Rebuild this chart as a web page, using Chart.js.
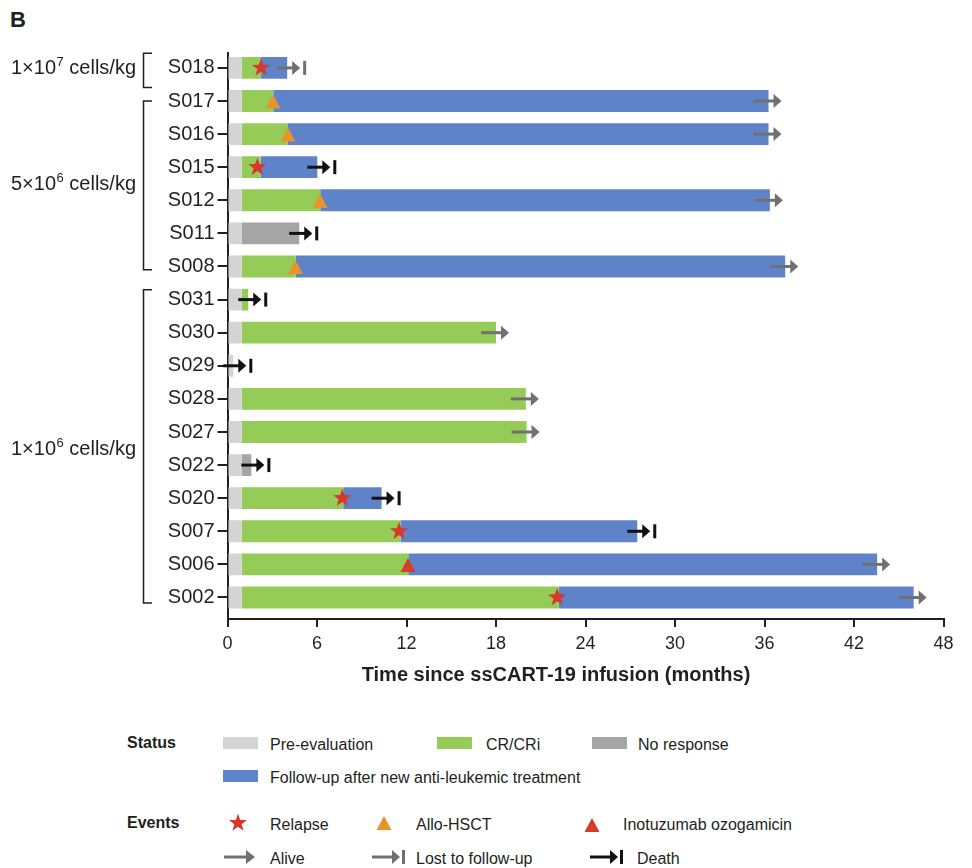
<!DOCTYPE html>
<html>
<head>
<meta charset="utf-8">
<script src="https://cdn.jsdelivr.net/npm/chart.js@4/dist/chart.umd.min.js"></script>
<style>
  html, body { margin: 0; padding: 0; background: #fff; }
  body { width: 972px; height: 868px; position: relative; overflow: hidden;
         font-family: "Liberation Sans", Arial, sans-serif; color: #231f20; }
  #wrap { position: absolute; left: 0; top: 0; width: 972px; height: 700px; }
  .abs { position: absolute; white-space: nowrap; line-height: 20px; font-size: 16px; }
  .bold { font-weight: bold; }
  .panel { position: absolute; left: 10px; top: 7px; font-size: 22px; font-weight: bold; line-height: 26px; }
  .xtitle { position: absolute; left: 356px; top: 662px; width: 400px; text-align: center;
            font-size: 20px; font-weight: bold; line-height: 24px; }
  .sw { position: absolute; width: 35px; height: 12px; }
  .ic { position: absolute; }
</style>
</head>
<body>
<div class="panel">B</div>
<div id="wrap"><canvas id="swim" width="972" height="700"></canvas></div>
<div class="xtitle">Time since ssCART-19 infusion (months)</div>

<!-- legend -->
<div class="abs bold" style="left:127px; top:733px;">Status</div>
<div class="sw" style="left:223px; top:737px; background:#d4d4d4;"></div>
<div class="abs" style="left:270px; top:735px;">Pre-evaluation</div>
<div class="sw" style="left:437px; top:737px; background:#95cb57;"></div>
<div class="abs" style="left:486px; top:735px;">CR/CRi</div>
<div class="sw" style="left:592px; top:737px; background:#a5a5a5;"></div>
<div class="abs" style="left:638px; top:735px;">No response</div>
<div class="sw" style="left:223px; top:770px; background:#5f83c9;"></div>
<div class="abs" style="left:270px; top:768px;">Follow-up after new anti-leukemic treatment</div>

<div class="abs bold" style="left:127px; top:813px;">Events</div>
<svg class="ic" style="left:228px; top:813px;" width="20" height="20" viewBox="-10 -10 20 20">
  <polygon fill="#d8372c" points="0,-9.5 2.2,-3 9,-2.9 3.6,1.2 5.6,7.7 0,3.8 -5.6,7.7 -3.6,1.2 -9,-2.9 -2.2,-3"/>
</svg>
<div class="abs" style="left:270px; top:815px;">Relapse</div>
<svg class="ic" style="left:376px; top:815px;" width="16" height="16" viewBox="0 0 16 16">
  <polygon fill="#e8942a" points="8,1 15.5,15 0.5,15"/>
</svg>
<div class="abs" style="left:416px; top:815px;">Allo-HSCT</div>
<svg class="ic" style="left:584px; top:817px;" width="16" height="16" viewBox="0 0 16 16">
  <polygon fill="#d53c2c" points="8,1 15.5,15 0.5,15"/>
</svg>
<div class="abs" style="left:623px; top:815px;">Inotuzumab ozogamicin</div>

<svg class="ic" style="left:224px; top:849px;" width="34" height="16" viewBox="0 0 34 16">
  <line x1="0" y1="8" x2="24" y2="8" stroke="#707070" stroke-width="3"/>
  <polygon fill="#707070" points="22,1 31,8 22,15"/>
</svg>
<div class="abs" style="left:270px; top:849px;">Alive</div>
<svg class="ic" style="left:372px; top:849px;" width="34" height="16" viewBox="0 0 34 16">
  <line x1="0" y1="8" x2="22" y2="8" stroke="#707070" stroke-width="3"/>
  <polygon fill="#707070" points="20,1 28,8 20,15"/>
  <rect x="30" y="1" width="3" height="14" fill="#707070"/>
</svg>
<div class="abs" style="left:416px; top:849px;">Lost to follow-up</div>
<svg class="ic" style="left:590px; top:849px;" width="34" height="16" viewBox="0 0 34 16">
  <line x1="0" y1="8" x2="22" y2="8" stroke="#111" stroke-width="3"/>
  <polygon fill="#111" points="20,1 28,8 20,15"/>
  <rect x="30" y="1" width="3" height="14" fill="#111"/>
</svg>
<div class="abs" style="left:637px; top:849px;">Death</div>

<script>
/* ── patients, top to bottom ── */
const patients = ['S018', 'S017', 'S016', 'S015', 'S012', 'S011', 'S008',
                  'S031', 'S030', 'S029', 'S028', 'S027', 'S022', 'S020',
                  'S007', 'S006', 'S002'];

/* segment ends, months since infusion (null = no such segment) */
const preEvalEnd  = [0.95, 0.95, 0.95, 0.95, 0.95, 0.95, 0.95, 0.95, 0.95, 0.39, 0.95, 0.95, 0.95, 0.95, 0.95, 0.95, 0.95];
const crEnd       = [2.25, 3.07, 4.05, 2.22, 6.22, null, 4.57, 1.39, 18.0, null, 20.0, 20.05, null, 7.76, 11.6, 12.12, 22.2];
const noRespEnd   = [null, null, null, null, null, 4.81, null, null, null, null, null, null, 1.6, null, null, null, null];
const followUpEnd = [4.0, 36.27, 36.27, 6.02, 36.36, null, 37.39, null, null, null, null, null, null, 10.33, 27.47, 43.55, 46.0];
const outcome     = ['lost', 'alive', 'alive', 'death', 'alive', 'death', 'alive',
                     'death', 'alive', 'death', 'alive', 'alive', 'death', 'death',
                     'death', 'alive', 'alive'];

/* events */
const relapsePatients = ['S018', 'S015', 'S020', 'S007', 'S002'];
const relapseMonths   = [2.25, 2.0, 7.7, 11.5, 22.1];
const alloPatients    = ['S017', 'S016', 'S012', 'S008'];
const alloMonths      = [3.05, 4.05, 6.2, 4.55];
const inoPatients     = ['S006'];
const inoMonths       = [12.1];

/* dose groups */
const groupLabels = [['1×10', '7', ' cells/kg'], ['5×10', '6', ' cells/kg'], ['1×10', '6', ' cells/kg']];
const groupRows   = [[0, 0], [1, 6], [7, 16]];

const xTicks = [0, 6, 12, 18, 24, 30, 36, 42, 48];

const INK = '#231f20';
const FONT = '"Liberation Sans", Arial, sans-serif';
Chart.defaults.font.family = FONT;
Chart.defaults.color = INK;

/* ── build floating bar segments ── */
function segments(startArr, endArr) {
  const out = [];
  endArr.forEach((e, i) => {
    if (e == null) return;
    out.push({ x: [startArr[i], e], y: i });
  });
  return out;
}
const zeros = patients.map(() => 0);
const lastEnd = patients.map((_, i) => followUpEnd[i] ?? noRespEnd[i] ?? crEnd[i] ?? preEvalEnd[i]);

const barBase = { grouped: false, barPercentage: 0.66, categoryPercentage: 1, borderWidth: 0 };

/* ── arrows + event markers ── */
function drawStar(ctx, x, y, R, r) {
  ctx.beginPath();
  for (let k = 0; k < 10; k++) {
    const a = -Math.PI / 2 + k * Math.PI / 5;
    const rad = k % 2 ? r : R;
    ctx.lineTo(x + rad * Math.cos(a), y + rad * Math.sin(a));
  }
  ctx.closePath();
  ctx.fill();
}
function drawTri(ctx, x, y) {
  ctx.beginPath();
  ctx.moveTo(x, y - 6.5);
  ctx.lineTo(x + 7.5, y + 7.5);
  ctx.lineTo(x - 7.5, y + 7.5);
  ctx.closePath();
  ctx.fill();
}

const swimmerMarks = {
  id: 'swimmerMarks',
  afterDatasetsDraw(chart) {
    const { ctx, scales: { x, y } } = chart;
    ctx.save();
    // outcome arrows
    patients.forEach((p, i) => {
      const e = x.getPixelForValue(lastEnd[i]);
      const cy = y.getPixelForValue(i);
      const col = outcome[i] === 'death' ? '#111' : '#707070';
      ctx.fillStyle = col;
      ctx.strokeStyle = col;
      ctx.lineWidth = 3;
      let tail, tip;
      if (outcome[i] === 'alive') { tail = e - 15; tip = e + 13; }
      else { tail = e - 10; tip = e + 13; }
      ctx.beginPath();
      ctx.moveTo(tail, cy);
      ctx.lineTo(tip - 6, cy);
      ctx.stroke();
      ctx.beginPath();
      ctx.moveTo(tip - 8, cy - 7);
      ctx.lineTo(tip, cy);
      ctx.lineTo(tip - 8, cy + 7);
      ctx.closePath();
      ctx.fill();
      if (outcome[i] !== 'alive') ctx.fillRect(tip + 3, cy - 7, 3, 14);
    });
    // events
    ctx.fillStyle = '#e8942a';
    alloPatients.forEach((p, k) => drawTri(ctx, x.getPixelForValue(alloMonths[k]), y.getPixelForValue(patients.indexOf(p))));
    ctx.fillStyle = '#d53c2c';
    inoPatients.forEach((p, k) => drawTri(ctx, x.getPixelForValue(inoMonths[k]), y.getPixelForValue(patients.indexOf(p))));
    ctx.fillStyle = '#d8372c';
    relapsePatients.forEach((p, k) => drawStar(ctx, x.getPixelForValue(relapseMonths[k]), y.getPixelForValue(patients.indexOf(p)), 9.5, 3.9));
    ctx.restore();
  }
};

/* ── dose-group labels and brackets on the left ── */
const doseGroups = {
  id: 'doseGroups',
  afterDraw(chart) {
    const { ctx, scales: { y } } = chart;
    const ends = [[-0.44, 0.59], [1.0, 6.1], [6.7, 16.17]];
    ctx.save();
    ctx.strokeStyle = INK;
    ctx.fillStyle = INK;
    ctx.lineWidth = 1.5;
    groupRows.forEach((rows, g) => {
      const y0 = y.getPixelForValue(ends[g][0]);
      const y1 = y.getPixelForValue(ends[g][1]);
      ctx.beginPath();
      ctx.moveTo(152, y0); ctx.lineTo(143.5, y0); ctx.lineTo(143.5, y1); ctx.lineTo(152, y1);
      ctx.stroke();

      const cy = y.getPixelForValue((rows[0] + rows[1]) / 2) + 1;
      const [a, sup, b] = groupLabels[g];
      let xx = 11;
      ctx.textBaseline = 'middle';
      ctx.font = '20px ' + FONT;
      ctx.fillText(a, xx, cy);
      xx += ctx.measureText(a).width + 0.5;
      ctx.font = '13px ' + FONT;
      ctx.fillText(sup, xx, cy - 6);
      xx += ctx.measureText(sup).width;
      ctx.font = '20px ' + FONT;
      ctx.fillText(b, xx, cy);
    });
    ctx.restore();
  }
};

new Chart(document.getElementById('swim'), {
  type: 'bar',
  data: {
    datasets: [
      { ...barBase, label: 'Pre-evaluation', data: segments(zeros, preEvalEnd), backgroundColor: '#d4d4d4' },
      { ...barBase, label: 'CR/CRi', data: segments(preEvalEnd, crEnd), backgroundColor: '#95cb57' },
      { ...barBase, label: 'No response', data: segments(preEvalEnd, noRespEnd), backgroundColor: '#a5a5a5' },
      { ...barBase, label: 'Follow-up after new anti-leukemic treatment', data: segments(crEnd, followUpEnd), backgroundColor: '#5f83c9' },
    ],
  },
  options: {
    indexAxis: 'y',
    responsive: false,
    animation: false,
    layout: { padding: { top: 53, right: 28.5, left: 0, bottom: 0 } },
    plugins: { legend: { display: false }, tooltip: { enabled: false }, title: { display: false } },
    scales: {
      x: {
        type: 'linear', min: 0, max: 48,
        afterFit: s => { s.height = 81; },
        afterBuildTicks: s => { s.ticks = xTicks.map(v => ({ value: v })); },
        ticks: { font: { size: 18 }, color: INK, padding: 6, maxRotation: 0 },
        grid: { drawOnChartArea: false, tickLength: 8, color: INK, lineWidth: 2 },
        border: { color: INK, width: 2 },
      },
      y: {
        type: 'linear', reverse: true, min: -0.45, max: 16.65, offset: false,
        afterFit: s => { s.width = 227.5; },
        afterBuildTicks: s => { s.ticks = patients.map((_, i) => ({ value: i })); },
        ticks: { font: { size: 20 }, color: INK, padding: 3, autoSkip: false, callback: v => patients[v] },
        grid: { offset: false, drawOnChartArea: false, tickLength: 10, color: INK, lineWidth: 2 },
        border: { color: INK, width: 2 },
      },
    },
  },
  plugins: [swimmerMarks, doseGroups],
});
</script>
</body>
</html>
